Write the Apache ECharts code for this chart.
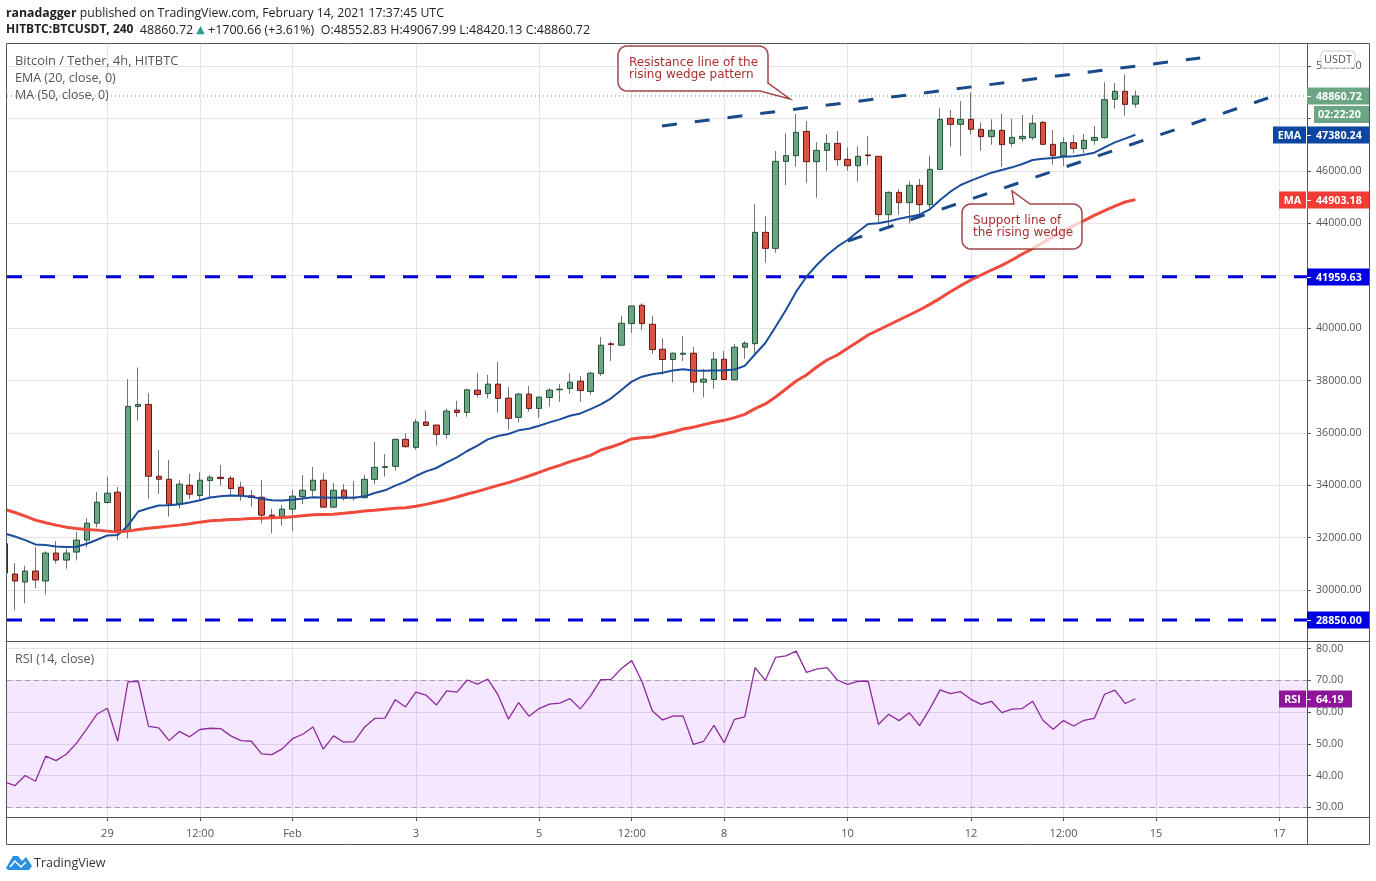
<!DOCTYPE html>
<html>
<head>
    <meta charset="UTF-8">
    <title>BTCUSDT 4h</title>
    <script src="https://cdn.jsdelivr.net/npm/echarts@6/dist/echarts.min.js"></script>
    <style>
        html, body { margin: 0; padding: 0; background: #fff; }
        #main { width: 1376px; height: 881px; }
    </style>
</head>
<body>
<div id="main"></div>
<script type="text/javascript">
    // 4h candles (oldest first)
    var opens = [31766,30610,30305,30724,30343,31410,31143,31448,31905,32553,
        33340,33734,32248,37010,37086,34343,34229,33277,34000,33607,
        34178,34305,34267,33924,33594,33543,32858,32807,33086,33569,
        33810,34191,33163,33810,33520,33525,34225,34680,34721,35752,
        35447,36412,36298,35942,36869,36780,37631,37504,37860,37327,
        36590,37479,36933,37352,37644,37695,37974,37580,38266,39400,
        39346,40171,40870,40146,39193,38800,39000,39041,37936,38038,
        38812,38025,39270,39404,43655,43044,46366,46582,47511,46353,
        46786,47053,46442,46200,46610,46557,44330,45182,44788,45450,
        44712,46060,48008,47779,47970,47588,47308,47550,47053,47231,
        47270,47855,47015,46582,47079,46850,47168,47270,48735,49040,48552.83];
    var highs = [31800,31029,30928,31639,31473,31867,31575,32223,32743,33747,
        34318,33937,38051,38496,37518,35346,34966,34191,34432,34496,
        34394,34775,34343,34128,33810,34204,33099,33251,33823,34394,
        34699,34458,34077,34039,34161,34390,35650,35192,35790,35981,
        36526,36844,36298,36920,37225,37682,38279,38215,38711,37746,
        37517,37784,37390,37707,37860,38279,38177,38342,39663,39485,
        40463,40844,40946,40463,39612,39066,39701,39282,38431,39092,
        39130,39397,39498,44724,44279,46760,47435,48173,47906,47091,
        47410,47524,46900,46939,47333,46570,45220,45297,45602,45692,
        46570,48390,48326,48670,49000,47855,47970,48173,47982,48135,
        48135,47906,47562,47282,47371,47410,47715,49382,49357,49688,49067.99];
    var lows = [30648,29226,29493,30064,29836,31016,30813,31131,31626,32388,
        33302,31893,31969,36464,33493,33670,32807,33112,33480,33442,
        33518,33988,33632,33416,33175,32540,32159,32451,32261,33277,
        33594,33150,33124,33416,33410,33487,34047,34327,34556,35434,
        35358,36247,35510,35777,36615,36615,37352,37314,36768,36120,
        36399,36806,36577,36996,37187,37492,37187,37454,38177,38749,
        39346,39816,39930,39016,38216,37923,38749,37542,37352,37682,
        38025,38000,38825,39035,42497,42879,45462,46162,45551,44979,
        45997,46200,45997,45590,46226,43990,43808,44330,44000,44253,
        44572,46060,46926,46582,47384,46773,47000,46162,46926,47117,
        47180,46990,46239,46188,46684,46671,47002,47231,48377,48110,48420.13];
    var closes = [30648,30343,30724,30382,31410,31143,31410,31905,32553,33353,
        33696,32248,37010,37086,34343,34229,33277,34039,33658,34191,
        34305,34254,33873,33594,33531,32858,32807,33086,33582,33810,
        34191,33163,33810,33505,33540,34225,34683,34710,35752,35472,
        36412,36285,35942,36831,36780,37644,37466,37860,37314,36552,
        37479,36933,37365,37631,37670,37936,37618,38279,39346,39370,
        40184,40844,40171,39181,38800,39041,39040,37936,38050,38812,
        38038,39270,39422,43655,43044,46366,46582,47473,46353,46786,
        47053,46430,46200,46557,46580,44330,45182,44788,45450,44712,
        46060,47970,47779,47970,47588,47308,47550,47002,47282,47320,
        47817,47015,46582,47079,46862,47168,47282,48720,49040,48542,48860.72];
    var ema20 = [32159,32045,31905,31740,31715,31664,31639,31651,31766,31918,
        32083,32096,32464,32997,33124,33226,33239,33277,33340,33429,
        33531,33581,33607,33594,33556,33480,33429,33416,33442,33493,
        33543,33531,33518,33530,33525,33576,33703,33805,33983,34136,
        34352,34530,34658,34874,35065,35307,35510,35752,35879,35956,
        36096,36158,36272,36399,36514,36653,36742,36907,37089,37318,
        37636,37955,38145,38235,38298,38381,38431,38381,38368,38381,
        38393,38419,38558,39000,39430,40054,40690,41390,41962,42408,
        42790,43108,43362,43680,43973,43999,44075,44177,44253,44330,
        44533,44890,45208,45462,45628,45781,45933,46035,46137,46264,
        46417,46468,46493,46544,46557,46621,46697,46900,47091,47232,47380.24];
    var ma50 = [33086,32959,32820,32667,32566,32477,32400,32350,32312,32286,
        32248,32210,32248,32312,32362,32400,32439,32477,32528,32591,
        32642,32667,32693,32706,32731,32744,32756,32769,32794,32832,
        32870,32883,32896,32927,32965,33016,33041,33080,33118,33143,
        33194,33270,33360,33449,33550,33665,33767,33881,33996,34098,
        34225,34352,34492,34632,34760,34900,35014,35141,35345,35460,
        35600,35766,35816,35842,35944,36033,36147,36211,36313,36402,
        36478,36580,36707,36924,37102,37370,37674,37980,38208,38514,
        38781,38972,39226,39481,39735,39926,40117,40308,40499,40690,
        40906,41135,41390,41619,41835,42026,42217,42395,42599,42828,
        43032,43261,43490,43706,43910,44100,44304,44482,44660,44813,44903.18];
    var rsi14 = [38,36.8,40,38.2,46.1,44.7,46.7,50.2,54.7,59.4,
        61.2,50.8,69.5,69.7,55.5,55,51,53.9,52.2,54.5,
        54.9,54.8,52.5,51,50.8,46.8,46.6,48.4,51.6,53,
        55.3,48.3,52.5,50.5,50.7,55.2,58,58.1,63.9,61.6,
        66.3,65.3,62.2,66.7,66.3,70.1,68.8,70.4,65.4,57.8,
        63,58.7,61.1,62.5,62.8,64.2,61,65.1,70.2,70.3,
        73.7,76.2,69.6,60.4,57.5,58.7,58.8,49.8,50.8,55.8,
        50.3,57.7,58.5,74,70,77.2,77.7,79.2,72.5,73.5,
        74,70.1,68.7,69.7,69.7,56.1,59.3,57.3,59.8,55.7,
        61,67,65.8,66.4,64,62.4,63.4,59.8,60.9,61.1,
        63.4,57.4,54.6,57.3,55.6,57.4,58,65.6,66.9,62.7,64.19];

    // axis ticks
    var priceTicks = [30000,32000,34000,36000,38000,40000,42000,44000,46000,48000,50000];
    var rsiTicks = [30,40,50,60,70,80];
    var timeTicks = [10,19,28,40,52,61,70,82,94,103,112,124];
    var timeLabels = ['29','12:00','Feb','3','5','12:00','8','10','12','12:00','15','17'];

    // drawn lines, [candle number, price]
    var resistanceLine = [[63.95,47716],[116.3,50312]];
    var supportLine = [[82.04,43325],[122.9,48785]];
    var levelHigh = 41959.63;
    var levelLow = 28850;
    var lastPrice = 48860.72;
    var lastRsi = 64.19;

    var xMin = 0.233, xMax = 126.69;
    var fontAxis = '"Open Sans"';

    var wickData = [], bodyData = [], emaData = [], maData = [], rsiData = [];
    for (var i = 0; i < closes.length; i++) {
        wickData.push([i, opens[i], closes[i], lows[i], highs[i]]);
        bodyData.push([i, opens[i], closes[i], Math.min(opens[i], closes[i]), Math.max(opens[i], closes[i])]);
        emaData.push([i, ema20[i]]);
        maData.push([i, ma50[i]]);
        rsiData.push([i, rsi14[i]]);
    }

    var gridLine = { show: true, lineStyle: { color: '#e4e4e4', width: 1 } };

    function flatLine(name, value, color, width, dash) {
        return {
            name: name, type: 'line', symbol: 'none', silent: true,
            data: [[xMin, value], [xMax, value]],
            lineStyle: { color: color, width: width, type: dash }, z: 4
        };
    }

    function trendLine(name, data) {
        return {
            name: name, type: 'line', symbol: 'none', silent: true, data: data,
            lineStyle: { color: '#1b4a8a', width: 3, type: [15, 18] }, z: 6
        };
    }

    var myChart = echarts.init(document.getElementById('main'));

    var option = {
        animation: false,
        backgroundColor: '#fff',
        grid: [
            { left: 7, top: 44, width: 1300, height: 597 },
            { left: 7, top: 641, width: 1300, height: 176 }
        ],
        xAxis: [
            {
                type: 'value', gridIndex: 0, min: xMin, max: xMax,
                axisLine: { show: false }, axisLabel: { show: false },
                axisTick: { show: false, customValues: timeTicks }, splitLine: gridLine
            },
            {
                type: 'value', gridIndex: 1, min: xMin, max: xMax,
                axisLine: { show: false },
                axisTick: { length: 4, lineStyle: { color: '#555' }, customValues: timeTicks },
                axisLabel: {
                    customValues: timeTicks, color: '#555', fontSize: 11, fontFamily: 'Open Sans', margin: 11,
                    formatter: function (v) { return timeLabels[timeTicks.indexOf(v)]; }
                },
                splitLine: gridLine
            }
        ],
        yAxis: [
            {
                type: 'value', gridIndex: 0, position: 'right', min: 28053, max: 50846, scale: true,
                axisLine: { show: false },
                axisTick: { show: true, length: 4, lineStyle: { color: '#555' }, customValues: priceTicks },
                axisLabel: {
                    customValues: priceTicks, color: '#555', fontSize: 10.7, fontFamily: 'Open Sans', margin: 9,
                    padding: [2, 0, 0, 0],
                    formatter: function (v) { return v.toFixed(2); }
                },
                splitLine: gridLine
            },
            {
                type: 'value', gridIndex: 1, position: 'right', min: 26.94, max: 82.38, scale: true,
                axisLine: { show: false },
                axisTick: { show: true, length: 4, lineStyle: { color: '#555' }, customValues: rsiTicks },
                axisLabel: {
                    customValues: rsiTicks, color: '#555', fontSize: 10.7, fontFamily: 'Open Sans', margin: 9,
                    padding: [2, 0, 0, 0],
                    formatter: function (v) { return v.toFixed(2); }
                },
                splitLine: gridLine
            }
        ],
        series: [
            flatLine('level high', levelHigh, '#0000d8', 3, [15, 18]),
            flatLine('level low', levelLow, '#0000d8', 3, [15, 18]),
            flatLine('last price', lastPrice, '#5f9c7c', 1, [1, 3]),
            {
                name: 'wicks', type: 'candlestick', data: wickData, barWidth: 1, silent: true, z: 2,
                itemStyle: { color: '#737375', color0: '#737375', borderColor: '#737375', borderColor0: '#737375', borderColorDoji: '#737375', borderWidth: 1 }
            },
            {
                name: 'bodies', type: 'candlestick', data: bodyData, barWidth: 6, silent: true, z: 3,
                itemStyle: { color: '#6ba583', color0: '#d75442', borderColor: '#225437', borderColor0: '#6b1414', borderColorDoji: '#225437', borderWidth: 1 }
            },
            {
                name: 'EMA', type: 'line', data: emaData, symbol: 'none', silent: true, z: 5,
                lineStyle: { color: '#1a4e9c', width: 2 }
            },
            {
                name: 'MA', type: 'line', data: maData, symbol: 'none', silent: true, z: 5,
                lineStyle: { color: '#ef4a3c', width: 3 }
            },
            trendLine('resistance', resistanceLine),
            trendLine('support', supportLine),
            {
                name: 'RSI', type: 'line', xAxisIndex: 1, yAxisIndex: 1, data: rsiData, symbol: 'none', silent: true, z: 5,
                lineStyle: { color: '#8e2a9e', width: 1.3 },
                markArea: {
                    silent: true,
                    itemStyle: { color: 'rgba(153,21,255,0.1)' },
                    data: [[{ yAxis: 70 }, { yAxis: 30 }]]
                },
                markLine: {
                    silent: true, symbol: 'none', label: { show: false },
                    lineStyle: { color: '#a99aaa', type: [5, 4], width: 1 },
                    data: [{ yAxis: 70 }, { yAxis: 30 }]
                }
            }
        ]
    };

    myChart.setOption(option);

    // rounded box with a pointer, as polygon points
    function callout(x, y, w, h, r, topPointer, cornerPointer) {
        var pts = [];
        function corner(cx, cy, from) {
            for (var a = 0; a <= 6; a++) {
                var t = (from + a * 15) * Math.PI / 180;
                pts.push([cx + r * Math.cos(t), cy + r * Math.sin(t)]);
            }
        }
        corner(x + r, y + r, 180);
        if (topPointer) { pts = pts.concat(topPointer); }
        corner(x + w - r, y + r, 270);
        if (cornerPointer) {
            pts = pts.concat(cornerPointer);
        } else {
            corner(x + w - r, y + h - r, 0);
        }
        corner(x + r, y + h - r, 90);
        return pts;
    }

    function noteBox(x, y, w, h, topPointer, cornerPointer) {
        return {
            type: 'polygon', z: 20, shape: { points: callout(x, y, w, h, 9, topPointer, cornerPointer) },
            style: { fill: 'rgba(255,255,255,0.72)', stroke: '#a5474a', lineWidth: 1.5 }
        };
    }

    function noteText(x, y, text) {
        return {
            type: 'text', z: 21, x: x, y: y,
            style: { text: text, fill: '#a8302f', font: '12px "DejaVu Sans"', lineHeight: 12, textVerticalAlign: 'top' }
        };
    }

    function plainText(x, y, text, color, font) {
        return {
            type: 'text', z: 21, x: x, y: y,
            style: { text: text, fill: color, font: font, textVerticalAlign: 'middle' }
        };
    }

    // coloured price tag on the right axis, placed from the axis scale
    function axisTag(axisIndex, value, text, color, name, right, nameLeft) {
        right = right || 1369;
        var y = Math.round(myChart.convertToPixel({ yAxisIndex: axisIndex }, value));
        var els = [
            { type: 'rect', z: 22, shape: { x: 1307, y: y - 8.5, width: right - 1307, height: 17 }, style: { fill: color } },
            { type: 'line', z: 23, shape: { x1: 1307, y1: y + 0.5, x2: 1311, y2: y + 0.5 }, style: { stroke: '#fff', lineWidth: 1 } },
            {
                type: 'text', z: 23, x: 1316, y: y + 0.5,
                style: { text: text, fill: '#fff', font: 'bold 10.7px ' + fontAxis, textVerticalAlign: 'middle' }
            }
        ];
        if (name) {
            els.push({ type: 'rect', z: 22, shape: { x: nameLeft, y: y - 8.5, width: 1306 - nameLeft, height: 17 }, style: { fill: color } });
            els.push({
                type: 'text', z: 23, x: (nameLeft + 1306) / 2, y: y + 0.5,
                style: { text: name, fill: '#fff', font: 'bold 10.7px ' + fontAxis, textAlign: 'center', textVerticalAlign: 'middle' }
            });
        }
        return els;
    }

    var headFont = '12.3px "Open Sans"';
    var labelFont = '12.5px "Open Sans"';

    var elements = [
        // left edge cover, the first candle is cut by the pane
        { type: 'rect', z: 9, shape: { x: 0, y: 44, width: 6.5, height: 597 }, style: { fill: '#fff' } },
        // frame
        { type: 'rect', z: 10, shape: { x: 6.5, y: 43.5, width: 1363, height: 801 }, style: { fill: 'none', stroke: '#555', lineWidth: 1 } },
        { type: 'line', z: 10, shape: { x1: 1307.5, y1: 44, x2: 1307.5, y2: 844 }, style: { stroke: '#555', lineWidth: 1 } },
        { type: 'line', z: 10, shape: { x1: 7, y1: 641.5, x2: 1369, y2: 641.5 }, style: { stroke: '#555', lineWidth: 1 } },
        { type: 'line', z: 10, shape: { x1: 7, y1: 817.5, x2: 1369, y2: 817.5 }, style: { stroke: '#555', lineWidth: 1 } },
        // header
        {
            type: 'text', z: 21, x: 6, y: 13,
            style: {
                text: '{b|ranadagger} published on TradingView.com, February 14, 2021 17:37:45 UTC',
                fill: '#222', font: headFont, textVerticalAlign: 'middle',
                rich: { b: { font: 'bold 12.3px "Open Sans"', fill: '#222' } }
            }
        },
        {
            type: 'text', z: 21, x: 6, y: 30,
            style: {
                text: '{b|HITBTC:BTCUSDT, 240}  {n|48860.72} {u|▲} {n|+1700.66 (+3.61%)  O:48552.83 H:49067.99 L:48420.13 C:48860.72}',
                fill: '#222', font: headFont, textVerticalAlign: 'middle',
                rich: {
                    b: { font: 'bold 12px "Open Sans"', fill: '#222' },
                    n: { font: '12.5px "Open Sans"', fill: '#222' },
                    u: { font: '11px "DejaVu Sans"', fill: '#2a9d8f' }
                }
            }
        },
        // pane legends
        plainText(15, 61, 'Bitcoin / Tether, 4h, HITBTC', '#555', '500 12.8px "Open Sans"'),
        plainText(15, 78, 'EMA (20, close, 0)', '#555', labelFont),
        plainText(15, 95, 'MA (50, close, 0)', '#555', labelFont),
        plainText(15, 659, 'RSI (14, close)', '#555', labelFont),
        // notes
        noteBox(618, 46, 150, 45, null, [[768, 83], [790, 99], [760, 91]]),
        noteText(629, 56.5, 'Resistance line of the\nrising wedge pattern'),
        noteBox(962, 204, 120, 45, [[1014, 204], [1012, 191], [1030, 204]], null),
        noteText(973, 214.5, 'Support line of\nthe rising wedge'),
        // scale button
        { type: 'rect', z: 24, shape: { x: 1321, y: 51, width: 34, height: 17, r: 4 }, style: { fill: '#fff', stroke: '#ccc', lineWidth: 1 } },
        {
            type: 'text', z: 25, x: 1338, y: 59.5,
            style: { text: 'USDT', fill: '#555', font: '11px ' + fontAxis, textAlign: 'center', textVerticalAlign: 'middle' }
        },
        // countdown tag
        { type: 'rect', z: 22, shape: { x: 1314, y: 106, width: 55, height: 17 }, style: { fill: '#6ba583' } },
        {
            type: 'text', z: 23, x: 1318, y: 114.5,
            style: { text: '02:22:20', fill: '#fff', font: 'bold 10.7px ' + fontAxis, textVerticalAlign: 'middle' }
        },
        // logo
        {
            type: 'polygon', z: 21, shape: { points: [[6, 868], [13, 856], [18, 856], [22, 861], [26, 857], [32, 866], [29, 870], [8, 870]] },
            style: { fill: '#2a8fe0' }
        },
        {
            type: 'polyline', z: 22, shape: { points: [[10, 867], [15, 861], [21, 867], [26, 862]] },
            style: { stroke: '#fff', lineWidth: 1.5, fill: 'none' }
        },
        plainText(34, 863, 'TradingView', '#333', '12.5px "Open Sans"')
    ];

    elements = elements
        .concat(axisTag(0, lastPrice, '48860.72', '#6ba583'))
        .concat(axisTag(0, ema20[ema20.length - 1], '47380.24', '#0d479f', 'EMA', 1369, 1273))
        .concat(axisTag(0, ma50[ma50.length - 1], '44903.18', '#f23b35', 'MA', 1369, 1279))
        .concat(axisTag(0, levelHigh, '41959.63', '#0000e0'))
        .concat(axisTag(0, levelLow, '28850.00', '#0000e0'))
        .concat(axisTag(1, lastRsi, '64.19', '#8e1599', 'RSI', 1352, 1279));

    myChart.setOption({ graphic: { elements: elements } });
</script>
</body>
</html>
